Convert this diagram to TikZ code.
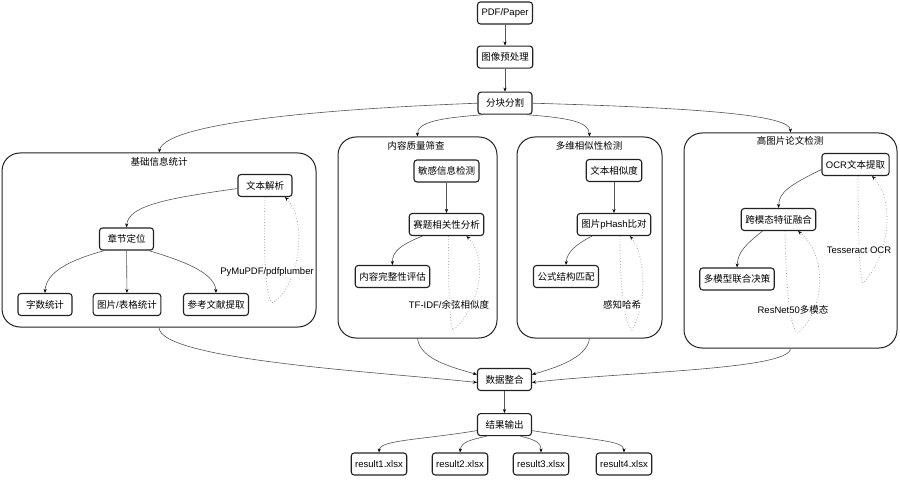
\documentclass[tikz,border=0pt]{standalone}
\usepackage{fontspec}
\setmainfont{Liberation Sans}
\newfontfamily\cjk{Noto Sans CJK SC}
\usetikzlibrary{positioning,arrows.meta}
\definecolor{edgegray}{HTML}{555555}
\definecolor{loopgray}{HTML}{A8A8A8}
\definecolor{boxline}{HTML}{222222}

\begin{document}
\begin{tikzpicture}[x=1pt,y=-1pt,
      every node/.style={font=\fontsize{9.5}{11}\selectfont, text=black},
      box/.style={draw=boxline, line width=1.1pt, rounded corners=3pt, fill=white,
        minimum width=54pt, minimum height=22pt, inner xsep=4pt, inner ysep=2pt},
      group/.style={draw=boxline, line width=1pt, rounded corners=18pt, inner sep=0pt},
      gtitle/.style={inner sep=1pt},
      flow/.style={draw=edgegray, line width=0.6pt, -{Stealth[length=4pt,width=3.2pt,color=black]}},
      loopline/.style={draw=loopgray, line width=0.8pt, dotted, -{Stealth[length=4pt,width=3.2pt,color=black]}},
      looplabel/.style={fill=white, inner sep=1pt}
    ]
      \useasboundingbox (0,0) rectangle (900,481);

      % main chain
      \node[box] (pdf) at (505,13) {PDF/Paper};
      \node[box, below=21pt of pdf] (pre) {\cjk 图像预处理};
      \node[box, below=23pt of pre] (split) {\cjk 分块分割};

      % groups
      \node[group, minimum width=314pt, minimum height=174pt] (g1) at (159,240) {};
      \node[gtitle] (g1t) at (159,162) {\cjk 基础信息统计};
      \node[group, minimum width=159pt, minimum height=201pt] (g2) at (417.5,237.5) {};
      \node[gtitle] (g2t) at (416,146) {\cjk 内容质量筛查};
      \node[group, minimum width=145pt, minimum height=201pt] (g3) at (589.5,237.5) {};
      \node[gtitle] (g3t) at (589,146) {\cjk 多维相似性检测};
      \node[group, minimum width=213pt, minimum height=215pt] (g4) at (790.5,240.5) {};
      \node[gtitle] (g4t) at (790,141) {\cjk 高图片论文检测};

      % basic statistics
      \node[box] (parse) at (265,185.5) {\cjk 文本解析};
      \node[box] (chap) at (126.5,239) {\cjk 章节定位};
      \node[box] (words) at (45,304.5) {\cjk 字数统计};
      \node[box] (figs) at (127,304.5) {{\cjk 图片}/{\cjk 表格统计}};
      \node[box] (refs) at (216,304.5) {\cjk 参考文献提取};

      % quality screening
      \node[box] (sens) at (446.5,171) {\cjk 敏感信息检测};
      \node[box] (rel) at (446.5,224.5) {\cjk 赛题相关性分析};
      \node[box] (integ) at (392.5,276.5) {\cjk 内容完整性评估};

      % similarity
      \node[box] (tsim) at (614,170.5) {\cjk 文本相似度};
      \node[box] (phash) at (614,224.5) {{\cjk 图片}pHash{\cjk 比对}};
      \node[box] (formula) at (566,276.5) {\cjk 公式结构匹配};

      % image-heavy papers
      \node[box] (ocr) at (855.5,164.5) {OCR{\cjk 文本提取}};
      \node[box] (fuse) at (778.5,219.5) {\cjk 跨模态特征融合};
      \node[box] (decide) at (737,279) {\cjk 多模型联合决策};

      % output
      \node[box] (merge) at (504.5,379.5) {\cjk 数据整合};
      \node[box, below=22pt of merge] (out) {\cjk 结果输出};
      \foreach \i/\x in {1/379,2/460,3/541,4/624}
        \node[box] (r\i) at (\x,464) {result\i.xlsx};

      \draw[flow] (pdf) -- (pre);
      \draw[flow] (pre) -- (split);
      \draw[flow] (split.west) .. controls (300,110) and (165,125) .. (g1.north);
      \draw[flow] ([xshift=-22pt]split.south) .. controls (440,118) and (417,122) .. (g2.north);
      \draw[flow] ([xshift=22pt]split.south) .. controls (570,118) and (589,122) .. (g3.north);
      \draw[flow] (split.east) .. controls (700,108) and (790,115) .. (g4.north);

      \draw[flow] ([yshift=-3pt]parse.west) .. controls (170,198) and (128,205) .. (chap.north);
      \draw[flow] ([xshift=-22pt]chap.south) .. controls (70,260) and (46,272) .. (words.north);
      \draw[flow] (chap) -- (figs);
      \draw[flow] ([xshift=22pt]chap.south) .. controls (180,260) and (215,272) .. (refs.north);

      \draw[flow] (sens) -- (rel);
      \draw[flow] ([xshift=-24pt]rel.south) .. controls (400,245) and (392,252) .. (integ.north);
      \draw[flow] (tsim) -- (phash);
      \draw[flow] ([xshift=-22pt]phash.south) .. controls (575,245) and (567,252) .. (formula.north);
      \draw[flow] ([yshift=-5pt]ocr.west) .. controls (790,185) and (779,192) .. (fuse.north);
      \draw[flow] ([xshift=-16pt]fuse.south) .. controls (745,245) and (738,252) .. (decide.north);

      % tool loops
      \coordinate (t1) at (273,303);
      \coordinate (t2) at (453,330);
      \coordinate (t3) at (632,330);
      \coordinate (t4) at (863,283);
      \coordinate (t5) at (798,333);
      \draw[loopline] (parse.south) .. controls (263,260) and (266,300) .. (t1)
        .. controls (300,285) and (308,220) .. ([xshift=20pt]parse.south);
      \draw[loopline] ([xshift=2pt]rel.south) .. controls (448,290) and (450,325) .. (t2)
        .. controls (478,310) and (490,260) .. ([xshift=20pt]rel.south);
      \draw[loopline] ([xshift=6pt]phash.south) .. controls (620,290) and (625,325) .. (t3)
        .. controls (648,300) and (645,255) .. ([xshift=16pt]phash.south);
      \draw[loopline] ([xshift=2.5pt]ocr.south) .. controls (858,240) and (860,280) .. (t4)
        .. controls (890,255) and (895,200) .. ([xshift=16.5pt]ocr.south);
      \draw[loopline] ([xshift=6.5pt]fuse.south) .. controls (786,290) and (790,330) .. (t5)
        .. controls (825,310) and (828,255) .. ([xshift=19.5pt]fuse.south);
      \node[looplabel] (l1) at (267,272) {PyMuPDF/pdfplumber};
      \node[looplabel] (l2) at (449,305) {TF-IDF/{\cjk 余弦相似度}};
      \node[looplabel] (l3) at (622,305) {\cjk 感知哈希};
      \node[looplabel] (l4) at (859,250) {Tesseract OCR};
      \node[looplabel] (l5) at (793,310) {ResNet50{\cjk 多模态}};

      \draw[flow] (g1.south) .. controls (160,360) and (380,372) .. ([yshift=-3pt]merge.west);
      \draw[flow] (g2.south) .. controls (420,360) and (455,368) .. ([yshift=5pt]merge.west);
      \draw[flow] (g3.south) .. controls (587,358) and (555,368) .. ([yshift=5pt]merge.east);
      \draw[flow] (g4.south) .. controls (790,370) and (620,372) .. ([yshift=-3pt]merge.east);
      \draw[flow] (merge) -- (out);
      \draw[flow] ([yshift=-6pt]out.west) .. controls (420,440) and (380,440) .. (r1.north);
      \draw[flow] ([xshift=-18pt]out.south) .. controls (470,440) and (461,442) .. (r2.north);
      \draw[flow] ([xshift=16pt]out.south) .. controls (535,440) and (541,442) .. (r3.north);
      \draw[flow] ([yshift=-6pt]out.east) .. controls (590,440) and (624,440) .. (r4.north);
    \end{tikzpicture}
\end{document}
